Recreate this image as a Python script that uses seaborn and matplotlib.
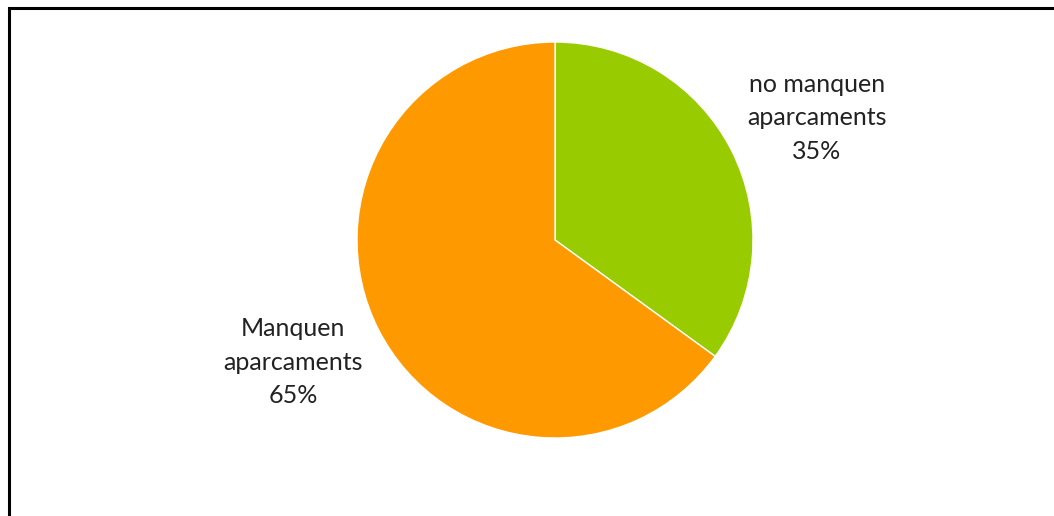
import matplotlib
matplotlib.use("Agg")
import matplotlib.pyplot as plt
import seaborn as sns
from matplotlib.patches import Rectangle

categories = ["no manquen\naparcaments", "Manquen\naparcaments"]
values = [35, 65]
colors = ["#99CC00", "#FF9900"]

sns.set_theme(style="white")
plt.rcParams['font.family'] = ['Lato', 'DejaVu Sans']

W, H = 1054, 516
fig = plt.figure(figsize=(W / 100, H / 100), dpi=100)
ax = fig.add_axes([0, 0, 1, 1])
ax.set_xlim(0, W)
ax.set_ylim(0, H)
ax.set_aspect('equal')
ax.axis('off')

labels = [f"{c}\n{v}%" for c, v in zip(categories, values)]
wedges, texts = ax.pie(values, labels=labels, colors=colors, startangle=88,
                       counterclock=False, center=(555, 276), radius=198,
                       labeldistance=1.46,
                       wedgeprops=dict(edgecolor='white', linewidth=1),
                       textprops=dict(fontsize=18, color='#222222',
                                      linespacing=1.55, fontweight='normal'))
for t in texts:
    t.set_horizontalalignment('center')
    t.set_verticalalignment('center')
# rotate wedges back so the slice boundary starts exactly at 12 o'clock
for w in wedges:
    w.set_theta1(w.theta1 + 2)
    w.set_theta2(w.theta2 + 2)
ax.set_xlim(0, W)
ax.set_ylim(0, H)

fig.patches.append(Rectangle((8.5 / W, -0.1), 1.2, (H - 7.5) / H + 0.1,
                             transform=fig.transFigure, fill=False,
                             edgecolor='black', linewidth=2.2))

fig.savefig("out.png", dpi=100)
